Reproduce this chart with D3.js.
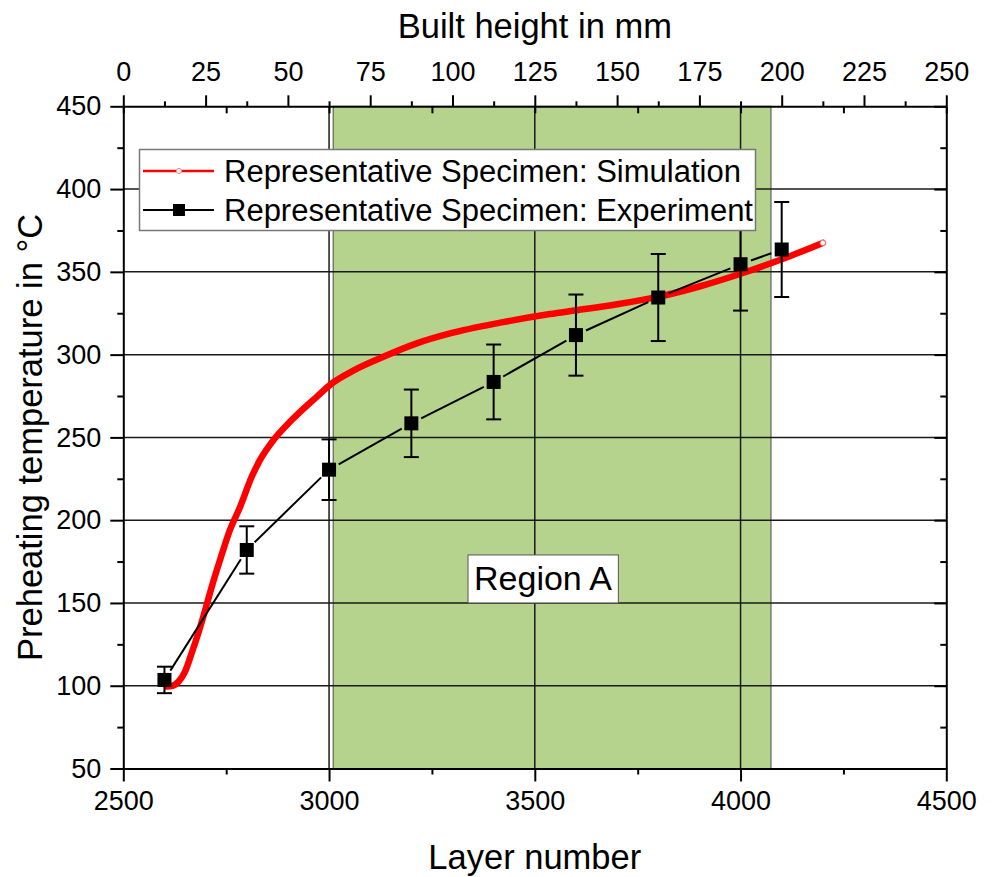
<!DOCTYPE html>
<html>
<head>
<meta charset="utf-8">
<script src="https://cdn.jsdelivr.net/npm/d3@7"></script>
<style>
  html, body { margin: 0; padding: 0; background: #fff; }
  svg { display: block; font-family: "Liberation Sans", Arial, sans-serif; }
</style>
</head>
<body>
<svg id="chart" width="992" height="877"></svg>
<script>
// ---------------- data ----------------
const layerTicks = [2500, 3000, 3500, 4000, 4500];
const layerMinorTicks = [2750, 3250, 3750, 4250];
const tempTicks = [50, 100, 150, 200, 250, 300, 350, 400, 450];
const tempMinorTicks = [75, 125, 175, 225, 275, 325, 375, 425];
const heightTicks = [0, 25, 50, 75, 100, 125, 150, 175, 200, 225, 250];
const heightMinorTicks = [12.5, 37.5, 62.5, 87.5, 112.5, 137.5, 162.5, 187.5, 212.5, 237.5];
const gridTemps = [100, 150, 200, 250, 300, 350, 400];
const gridLayers = [3000, 3500, 4000];

const regionLayers = [3010, 4074];
const regionLabel = "Region A";
const regionLabelLayer = 3520;
const regionLabelTemp = 150;

const expLayers = [2600, 2800, 3000, 3200, 3400, 3600, 3800, 4000, 4100];
const expTemps  = [103.5, 182, 230.5, 258.5, 283.5, 311.8, 334.5, 354.6, 363.5];
const expErrors = [8, 14.3, 18.3, 20.4, 22.6, 24.5, 26.3, 28, 28.7];

const simLayers = [2606, 2614, 2634, 2650, 2666, 2682, 2699, 2715, 2735, 2759, 2784, 2812, 2832, 2865, 2905,
                   2970, 3007, 3060, 3132, 3213, 3294, 3416, 3537, 3602, 3700, 3802, 3902, 4002, 4105, 4200];
const simTemps  = [99.5, 99.6, 102.4, 108.5, 119.6, 131.6, 145.7, 159.8, 175.9, 194, 208.1, 226.2, 236.3, 248.4, 259.4,
                   274.5, 282.6, 290.5, 298.7, 306.8, 312.8, 319.3, 324.5, 326.8, 330.4, 335, 341.3, 349, 358.1, 367.5];

const seriesNames = ["Representative Specimen: Simulation", "Representative Specimen: Experiment"];
const xTitle = "Layer number";
const x2Title = "Built height in mm";
const yTitle = "Preheating temperature in °C";

// ---------------- layout ----------------
const L = 123.3, R = 946.3, T = 106.3, B = 768.5;
const svg = d3.select("#chart");

const x = d3.scaleLinear().domain([2500, 4500]).range([L, R]);
const x2 = d3.scaleLinear().domain([0, 250]).range([L, R]);
const y = d3.scaleLinear().domain([50, 450]).range([B, T]);

const TICK_FONT = 27, TITLE_FONT = 34.5;

// green region
svg.append("rect")
  .attr("x", x(regionLayers[0])).attr("y", T)
  .attr("width", x(regionLayers[1]) - x(regionLayers[0])).attr("height", B - T)
  .attr("fill", "#b6d38d").attr("stroke", "#4a4a4a").attr("stroke-width", 1);

// grid
const grid = svg.append("g").attr("stroke", "#1a1a1a").attr("stroke-width", 1.5);
grid.selectAll("line.h").data(gridTemps).join("line")
  .attr("x1", L).attr("x2", R).attr("y1", d => y(d)).attr("y2", d => y(d));
grid.selectAll("line.v").data(gridLayers).join("line")
  .attr("y1", T).attr("y2", B).attr("x1", d => x(d)).attr("x2", d => x(d));

// axes
function styleAxis(g) {
  g.select(".domain").attr("stroke", "#000").attr("stroke-width", 2);
  g.selectAll(".tick line").attr("stroke", "#000").attr("stroke-width", 2);
  g.selectAll(".tick text").attr("fill", "#000").style("font-size", TICK_FONT + "px")
    .style("font-family", '"Liberation Sans", Arial, sans-serif');
}
// bottom
const gB = svg.append("g").attr("transform", `translate(0,${B})`)
  .call(d3.axisBottom(x).tickValues(layerTicks).tickFormat(d3.format("d")).tickSize(13).tickPadding(9).tickSizeOuter(0));
styleAxis(gB);
svg.append("g").attr("transform", `translate(0,${B})`)
  .call(d3.axisBottom(x).tickValues(layerMinorTicks).tickFormat("").tickSize(6).tickSizeOuter(0))
  .call(g => { g.select(".domain").remove(); g.selectAll("line").attr("stroke", "#000").attr("stroke-width", 2); });
// left
const gL = svg.append("g").attr("transform", `translate(${L},0)`)
  .call(d3.axisLeft(y).tickValues(tempTicks).tickFormat(d3.format("d")).tickSize(13).tickPadding(9).tickSizeOuter(0));
styleAxis(gL);
svg.append("g").attr("transform", `translate(${L},0)`)
  .call(d3.axisLeft(y).tickValues(tempMinorTicks).tickFormat("").tickSize(6).tickSizeOuter(0))
  .call(g => { g.select(".domain").remove(); g.selectAll("line").attr("stroke", "#000").attr("stroke-width", 2); });
// top (built height)
const gT = svg.append("g").attr("transform", `translate(0,${T})`)
  .call(d3.axisTop(x2).tickValues(heightTicks).tickFormat(d3.format("d")).tickSize(11).tickPadding(14).tickSizeOuter(0));
styleAxis(gT);
svg.append("g").attr("transform", `translate(0,${T})`)
  .call(d3.axisTop(x2).tickValues(heightMinorTicks).tickFormat("").tickSize(5).tickSizeOuter(0))
  .call(g => { g.select(".domain").remove(); g.selectAll("line").attr("stroke", "#000").attr("stroke-width", 2); });
// top mirrored (inward) layer ticks
svg.append("g").attr("transform", `translate(0,${T})`)
  .call(d3.axisBottom(x).tickValues(layerTicks.concat(layerMinorTicks)).tickFormat("").tickSize(7).tickSizeOuter(0))
  .call(g => { g.select(".domain").remove(); g.selectAll("line").attr("stroke", "#000").attr("stroke-width", 2); });
// right (inward)
svg.append("g").attr("transform", `translate(${R},0)`)
  .call(d3.axisLeft(y).tickValues(tempTicks).tickFormat("").tickSize(12).tickSizeOuter(0))
  .call(g => { g.select(".domain").attr("stroke", "#000").attr("stroke-width", 2); g.selectAll("line").attr("stroke", "#000").attr("stroke-width", 2); });
svg.append("g").attr("transform", `translate(${R},0)`)
  .call(d3.axisLeft(y).tickValues(tempMinorTicks).tickFormat("").tickSize(6).tickSizeOuter(0))
  .call(g => { g.select(".domain").remove(); g.selectAll("line").attr("stroke", "#000").attr("stroke-width", 2); });

// titles
svg.append("text").attr("x", (L + R) / 2).attr("y", 869).attr("text-anchor", "middle")
  .style("font-size", TITLE_FONT + "px").text(xTitle);
svg.append("text").attr("x", (L + R) / 2).attr("y", 38).attr("text-anchor", "middle")
  .style("font-size", TITLE_FONT + "px").text(x2Title);
svg.append("text").attr("transform", `translate(42,${(T + B) / 2}) rotate(-90)`).attr("text-anchor", "middle")
  .style("font-size", TITLE_FONT + "px").text(yTitle);

// region label
const rl = svg.append("g");
const rlText = rl.append("text").attr("x", x(regionLabelLayer)).attr("y", y(regionLabelTemp) - 13)
  .attr("text-anchor", "middle").style("font-size", "34px").text(regionLabel);
const bb = rlText.node().getBBox();
rl.insert("rect", "text").attr("x", bb.x - 6).attr("y", y(regionLabelTemp) - 48)
  .attr("width", bb.width + 12).attr("height", 48)
  .attr("fill", "#fff").attr("stroke", "#555").attr("stroke-width", 1);

// simulation curve
const simData = simLayers.map((d, i) => [d, simTemps[i]]);
svg.append("path").datum(simData)
  .attr("fill", "none").attr("stroke", "#ff0000").attr("stroke-width", 6.5)
  .attr("stroke-linecap", "round").attr("stroke-linejoin", "round")
  .attr("d", d3.line().x(d => x(d[0])).y(d => y(d[1])).curve(d3.curveMonotoneX));
const last = simData[simData.length - 1];
svg.append("circle").attr("cx", x(last[0])).attr("cy", y(last[1])).attr("r", 2.8)
  .attr("fill", "#fff").attr("stroke", "#ff6060").attr("stroke-width", 1);

// experiment: connecting lines with gaps
const expData = expLayers.map((d, i) => ({ l: d, t: expTemps[i], e: expErrors[i] }));
const gap = 11;
const segs = d3.pairs(expData).map(([a, b]) => {
  const x1 = x(a.l), y1 = y(a.t), x2p = x(b.l), y2p = y(b.t);
  const len = Math.hypot(x2p - x1, y2p - y1), ux = (x2p - x1) / len, uy = (y2p - y1) / len;
  return [x1 + ux * gap, y1 + uy * gap, x2p - ux * gap, y2p - uy * gap];
});
svg.append("g").selectAll("line").data(segs).join("line")
  .attr("x1", d => d[0]).attr("y1", d => d[1]).attr("x2", d => d[2]).attr("y2", d => d[3])
  .attr("stroke", "#000").attr("stroke-width", 2);
// error bars
const eb = svg.append("g").attr("stroke", "#000").attr("stroke-width", 2);
expData.forEach(d => {
  const cx = x(d.l);
  eb.append("line").attr("x1", cx).attr("x2", cx).attr("y1", y(d.t + d.e)).attr("y2", y(d.t - d.e));
  eb.append("line").attr("x1", cx - 7.5).attr("x2", cx + 7.5).attr("y1", y(d.t + d.e)).attr("y2", y(d.t + d.e));
  eb.append("line").attr("x1", cx - 7.5).attr("x2", cx + 7.5).attr("y1", y(d.t - d.e)).attr("y2", y(d.t - d.e));
});
svg.append("g").selectAll("rect").data(expData).join("rect")
  .attr("x", d => x(d.l) - 7).attr("y", d => y(d.t) - 7).attr("width", 14).attr("height", 14)
  .attr("fill", "#000");

// legend
const lg = svg.append("g");
lg.append("rect").attr("x", 139.5).attr("y", 149.5).attr("width", 616).attr("height", 81)
  .attr("fill", "#fff").attr("stroke", "#777").attr("stroke-width", 1.5);
lg.append("line").attr("x1", 143).attr("x2", 214).attr("y1", 171).attr("y2", 171)
  .attr("stroke", "#ff0000").attr("stroke-width", 2.5);
lg.append("circle").attr("cx", 179).attr("cy", 171).attr("r", 2.6)
  .attr("fill", "#fff").attr("stroke", "#ff8080").attr("stroke-width", 1);
lg.append("line").attr("x1", 143).attr("x2", 214).attr("y1", 210).attr("y2", 210)
  .attr("stroke", "#000").attr("stroke-width", 2);
lg.append("rect").attr("x", 173).attr("y", 204).attr("width", 12).attr("height", 12).attr("fill", "#000");
lg.selectAll("text").data(seriesNames).join("text")
  .attr("x", 224).attr("y", (d, i) => 182 + i * 39)
  .style("font-size", "31px").text(d => d);
</script>
</body>
</html>
